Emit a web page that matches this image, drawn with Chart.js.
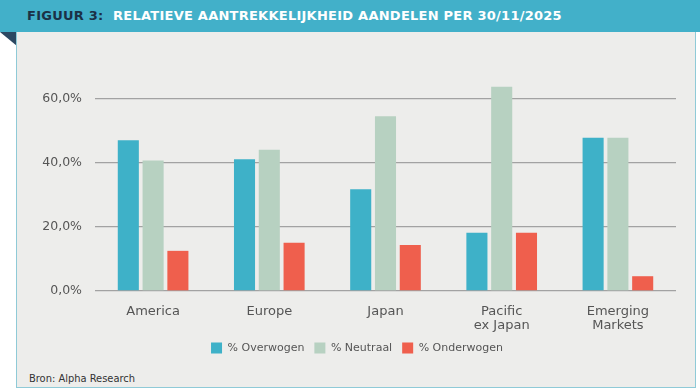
<!DOCTYPE html>
<html>
  <head>
    <meta charset="utf-8">
    <title>Figuur 3</title>
    <script src="https://cdn.jsdelivr.net/npm/chart.js@4.4.1/dist/chart.umd.min.js"></script>
    <style>
      body {
        margin: 0;
        background: #ffffff;
        width: 700px;
        height: 391px;
        position: relative;
        overflow: hidden;
        font-family: "DejaVu Sans", sans-serif;
      }
      #head {
        position: absolute; left: 0; top: 0; width: 700px; height: 32px;
        background: #42b0c9;
      }
      #title {
        position: absolute; left: 27px; top: 8px;
        font-size: 13px; font-weight: bold; letter-spacing: 0.25px;
        color: #ffffff; white-space: pre;
      }
      #title span { color: #1b3146; }
      #fold {
        position: absolute; left: 0; top: 32px; width: 0; height: 0;
        border-top: 14px solid #2c4862;
        border-left: 17px solid transparent;
      }
      #panel {
        position: absolute; left: 16px; top: 32px; width: 678px; height: 355px;
        background: #ededeb;
        border: 1.5px solid #8fcad7;
        border-top: none;
      }
      #bron {
        position: absolute; left: 29px; top: 372px;
        font-family: "DejaVu Sans Condensed", "DejaVu Sans", sans-serif;
        font-size: 11px; color: #333;
      }
      #chartdiv { position: absolute; left: 0; top: 0; width: 700px; height: 391px; }
    </style>
  </head>
  <body>
    <div id="head"><div id="title"><span>FIGUUR 3:</span>  RELATIEVE AANTREKKELIJKHEID AANDELEN PER 30/11/2025</div></div>
    <div id="fold"></div>
    <div id="panel"></div>
    <div id="bron">Bron: Alpha Research</div>
    <div id="chartdiv"><canvas id="myChart" width="700" height="391"></canvas></div>

    <script>
      var regios = ['America', 'Europe', 'Japan', ['Pacific', 'ex Japan'], ['Emerging', 'Markets']];
      var overwogen = [46.9, 41.0, 31.7, 18.1, 47.7];
      var neutraal = [40.6, 44.0, 54.4, 63.6, 47.7];
      var onderwogen = [12.5, 15.0, 14.3, 18.1, 4.6];
      var yTicks = [0, 20, 40, 60];

      var grey = '#555555';

      function pct(v) {
        return v.toFixed(1).replace('.', ',') + '%';
      }

      var ctx = document.getElementById('myChart').getContext('2d');
      var myChart = new Chart(ctx, {
        type: 'bar',
        data: {
          labels: regios,
          datasets: [{
            label: '% Overwogen',
            backgroundColor: '#3eb1c8',
            data: overwogen
          }, {
            label: '% Neutraal',
            backgroundColor: '#b7d1c1',
            data: neutraal
          }, {
            label: '% Onderwogen',
            backgroundColor: '#ef5f4d',
            data: onderwogen
          }]
        },
        options: {
          responsive: false,
          animation: false,
          categoryPercentage: 0.64,
          barPercentage: 0.85,
          layout: { padding: { left: 38, right: 24, top: 34, bottom: 27.5 } },
          plugins: {
            tooltip: { enabled: false },
            legend: {
              position: 'bottom',
              labels: {
                boxWidth: 11,
                boxHeight: 11,
                padding: 10,
                color: grey,
                font: { family: 'DejaVu Sans', size: 11 }
              }
            }
          },
          scales: {
            x: {
              grid: { display: false, drawTicks: false },
              border: { display: false },
              ticks: {
                padding: 14,
                color: grey,
                font: { family: 'DejaVu Sans', size: 13, lineHeight: 1.05 }
              },
              afterFit: function(scale) { scale.height = 41.5; }
            },
            y: {
              min: 0,
              max: 80,
              grid: { color: '#a2a2a2', lineWidth: 1.3, drawTicks: false },
              border: { display: false },
              ticks: {
                stepSize: 20,
                padding: 13,
                color: grey,
                font: { family: 'DejaVu Sans', size: 12.5 },
                callback: function(v) { return pct(v); }
              },
              afterBuildTicks: function(scale) {
                scale.ticks = yTicks.map(function(v) { return { value: v }; });
              },
              afterFit: function(scale) { scale.width = 57; }
            }
          }
        }
      });
    </script>
  </body>
</html>
